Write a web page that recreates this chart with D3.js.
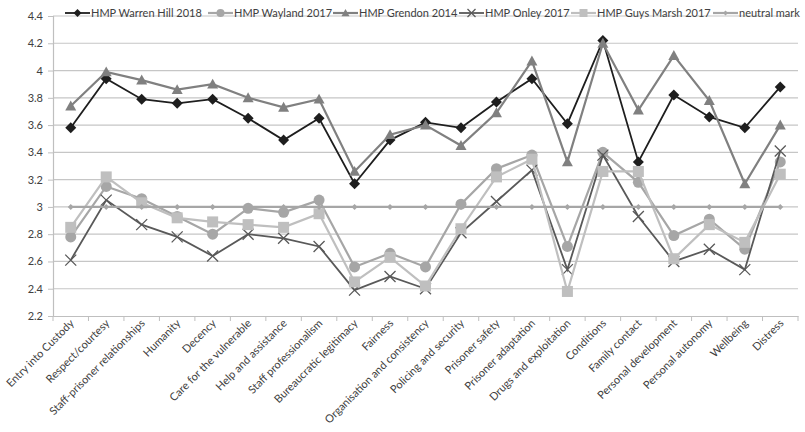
<!DOCTYPE html>
<html><head><meta charset="utf-8">
<script src="https://cdn.jsdelivr.net/npm/d3@7"></script>
<style>body{margin:0;background:#fff}svg{display:block}</style>
</head><body>
<svg id="c" width="805" height="432"></svg>
<script>
const categories = ["Entry into Custody","Respect/courtesy","Staff-prisoner relationships","Humanity","Decency","Care for the vulnerable","Help and assistance","Staff professionalism","Bureaucratic legitimacy","Fairness","Organisation and consistency","Policing and security","Prisoner safety","Prisoner adaptation","Drugs and exploitation","Conditions","Family contact","Personal development","Personal autonomy","Wellbeing","Distress"];
const warrenHill = [3.58,3.94,3.79,3.76,3.79,3.65,3.49,3.65,3.17,3.49,3.62,3.58,3.77,3.94,3.61,4.22,3.33,3.82,3.66,3.58,3.88];
const wayland    = [2.78,3.15,3.06,2.93,2.80,2.99,2.96,3.05,2.56,2.66,2.56,3.02,3.28,3.38,2.71,3.40,3.18,2.79,2.91,2.69,3.33];
const grendon    = [3.74,3.99,3.93,3.86,3.90,3.80,3.73,3.79,3.26,3.53,3.60,3.45,3.69,4.07,3.33,4.20,3.71,4.11,3.78,3.17,3.60];
const onley      = [2.61,3.05,2.87,2.78,2.64,2.80,2.77,2.71,2.39,2.49,2.40,2.81,3.04,3.27,2.54,3.38,2.93,2.60,2.69,2.54,3.41];
const guysMarsh  = [2.85,3.22,3.03,2.92,2.89,2.87,2.85,2.95,2.45,2.63,2.42,2.84,3.22,3.35,2.38,3.26,3.26,2.62,2.87,2.74,3.24];
const neutralMark= [3,3,3,3,3,3,3,3,3,3,3,3,3,3,3,3,3,3,3,3,3];
const yTicks = [2.2,2.4,2.6,2.8,3,3.2,3.4,3.6,3.8,4,4.2,4.4];
const seriesNames = ["HMP Warren Hill 2018","HMP Wayland 2017","HMP Grendon 2014","HMP Onley 2017","HMP Guys Marsh 2017","neutral mark"];

const series = [
  {name:seriesNames[0], values:warrenHill, color:"#1e1e1e", marker:"diamond", size:11, lw:1.8},
  {name:seriesNames[1], values:wayland, color:"#a6a6a6", marker:"circle", size:11, lw:2.2},
  {name:seriesNames[2], values:grendon, color:"#808080", marker:"triangle", size:11, lw:2.2},
  {name:seriesNames[3], values:onley, color:"#595959", marker:"x", size:11, lw:1.8},
  {name:seriesNames[4], values:guysMarsh, color:"#bfbfbf", marker:"square", size:11, lw:2.2},
  {name:seriesNames[5], values:neutralMark, color:"#a6a6a6", marker:"diamond", size:6, lw:2.2}
];

const svg = d3.select("#c");
const m = {l:53, r:798, t:16, b:316};
const font = "Lato, 'Open Sans', sans-serif";
const x = d3.scaleBand().domain(categories).range([m.l, m.r]).padding(0);
const y = d3.scaleLinear().domain([2.2,4.4]).range([m.b, m.t]);

// gridlines
svg.append("g").selectAll("line").data(yTicks.slice(1)).join("line")
  .attr("x1", m.l).attr("x2", m.r).attr("y1", d=>y(d)).attr("y2", d=>y(d))
  .attr("stroke", "#c6c6c6").attr("stroke-width", 1.2);

// y axis
const yAxis = svg.append("g").attr("transform", `translate(${m.l},0)`)
  .call(d3.axisLeft(y).tickValues(yTicks).tickSize(5).tickPadding(5).tickFormat(d3.format("~g")));
yAxis.select(".domain").attr("stroke", "#bfbfbf").attr("stroke-width", 1.2);
yAxis.selectAll(".tick line").attr("stroke", "#bfbfbf");
yAxis.selectAll("text").attr("font-family", font).attr("font-size", 11).attr("fill", "#404040");

// x axis
const xAxis = svg.append("g").attr("transform", `translate(0,${m.b})`)
  .call(d3.axisBottom(x).tickSize(0).tickFormat(""));
xAxis.select(".domain").attr("stroke", "#bfbfbf").attr("stroke-width", 1.2);
const bounds = categories.map(c => x(c)).concat([m.r]);
svg.append("g").selectAll("line").data(bounds).join("line")
  .attr("x1", d=>d).attr("x2", d=>d).attr("y1", m.b).attr("y2", m.b+5)
  .attr("stroke", "#bfbfbf");
svg.append("g").selectAll("text").data(categories).join("text")
  .attr("transform", d => `translate(${x(d)+x.bandwidth()/2+4},${m.b+8}) rotate(-45)`)
  .attr("text-anchor", "end").attr("font-family", font).attr("font-size", 11).attr("fill", "#404040")
  .text(d=>d);

function drawMarker(g, type, size, color) {
  const h = size/2;
  if (type === "diamond") g.append("path").attr("d", `M0,${-h}L${h},0L0,${h}L${-h},0Z`).attr("fill", color);
  else if (type === "circle") g.append("circle").attr("r", h).attr("fill", color);
  else if (type === "square") g.append("rect").attr("x", -h).attr("y", -h).attr("width", size).attr("height", size).attr("fill", color);
  else if (type === "triangle") g.append("path").attr("d", `M0,${-h}L${h},${h*0.8}L${-h},${h*0.8}Z`).attr("fill", color);
  else if (type === "x") g.append("path").attr("d", `M${-h},${-h}L${h},${h}M${h},${-h}L${-h},${h}`).attr("stroke", color).attr("stroke-width", 1.3).attr("fill", "none");
}

const line = d3.line().x((d,i)=>x(categories[i])+x.bandwidth()/2).y(d=>y(d));
series.forEach(s => {
  const g = svg.append("g");
  g.append("path").attr("d", line(s.values)).attr("fill", "none").attr("stroke", s.color).attr("stroke-width", s.lw);
  s.values.forEach((v,i) => {
    const mg = g.append("g").attr("transform", `translate(${x(categories[i])+x.bandwidth()/2},${y(v)})`);
    drawMarker(mg, s.marker, s.size, s.color);
  });
});

// legend
const legX = [65, 208, 333, 459, 571, 713];
const legend = svg.append("g");
series.forEach((s,i) => {
  const g = legend.append("g").attr("transform", `translate(${legX[i]},13)`);
  g.append("line").attr("x1", 0).attr("x2", 25).attr("stroke", s.color).attr("stroke-width", s.lw);
  const mg = g.append("g").attr("transform", "translate(12.5,0)");
  drawMarker(mg, s.marker, s.size > 6 ? 8 : 5, s.color);
  g.append("text").attr("x", 26).attr("y", 4).attr("font-family", font).attr("font-size", 11).attr("fill", "#404040").text(s.name);
});
</script>
</body></html>
